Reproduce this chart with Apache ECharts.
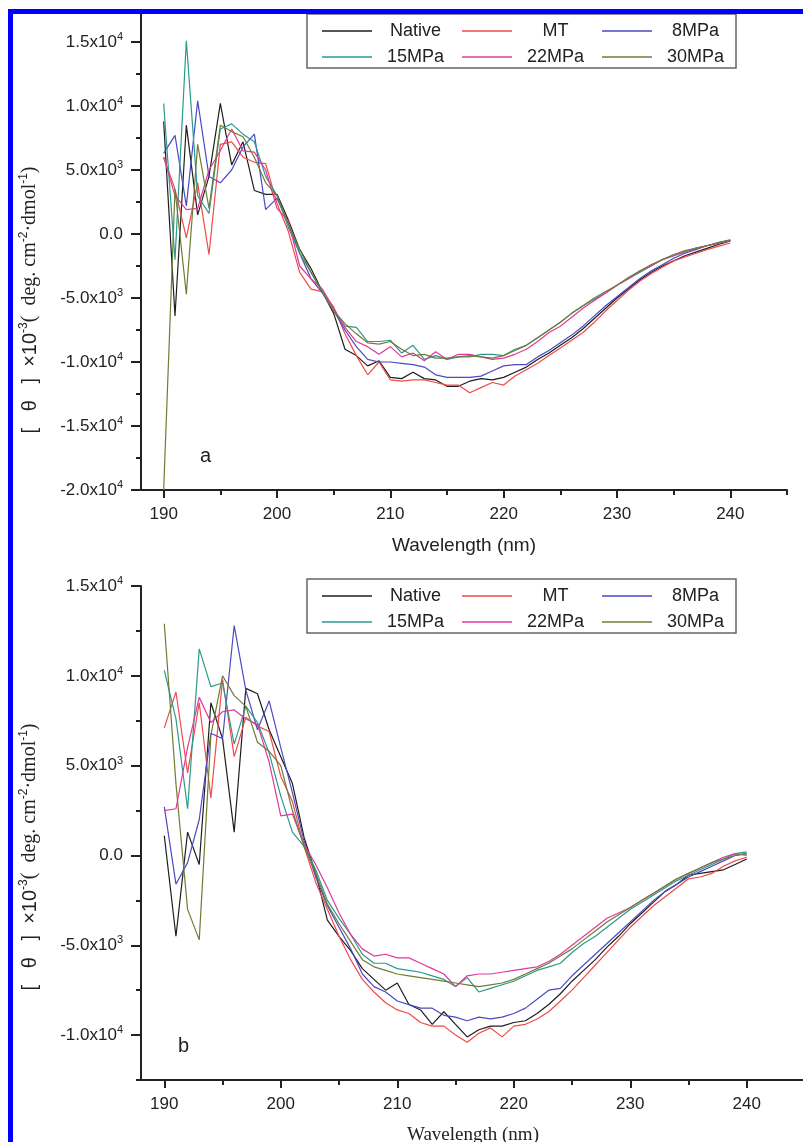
<!DOCTYPE html>
<html><head><meta charset="utf-8">
<script src="https://cdn.jsdelivr.net/npm/echarts@6/dist/echarts.min.js"></script>
<style>html,body{margin:0;padding:0;background:#fff}#c{width:803px;height:1142px}</style>
</head><body><div id="c"></div>
<script>
// ---------- data ----------
const wavelengths = [190,191,192,193,194,195,196,197,198,199,
  200,201,202,203,204,205,206,207,208,209,
  210,211,212,213,214,215,216,217,218,219,
  220,221,222,223,224,225,226,227,228,229,
  230,231,232,233,234,235,236,237,238,239,240];
const seriesNames = ['Native','MT','8MPa','15MPa','22MPa','30MPa'];
const xMajorTicks = [190,200,210,220,230,240];
const xMinorTicks = [195,205,215,225,235,245];
const yTopMajor = [-20000,-15000,-10000,-5000,0,5000,10000,15000];
const yTopMinor = [-17500,-12500,-7500,-2500,2500,7500,12500];
const yBotMajor = [-10000,-5000,0,5000,10000,15000];
const yBotMinor = [-12500,-7500,-2500,2500,7500,12500];

// panel a
const aNative = [8800,-6400,8500,1500,4500,10200,5400,7200,3400,3100,
  3100,1100,-1200,-2700,-4500,-6200,-9000,-9500,-10300,-9900,
  -11200,-11300,-10800,-11300,-11400,-11900,-11900,-11500,-11300,-11400,
  -11200,-10800,-10400,-9800,-9300,-8700,-8100,-7400,-6600,-5800,
  -5000,-4300,-3600,-3000,-2500,-2100,-1700,-1400,-1100,-800,-550];
const aMT = [6000,3500,-300,4000,-1600,7000,7200,6000,5600,5500,
  2400,200,-3000,-4300,-4500,-5700,-7800,-9500,-11000,-10000,
  -11400,-11500,-11400,-11400,-11600,-11800,-11800,-12400,-12000,-11600,
  -11800,-11100,-10600,-10100,-9500,-8900,-8300,-7700,-6900,-6000,
  -5200,-4400,-3700,-3100,-2600,-2100,-1800,-1500,-1200,-950,-700];
const a8MPa = [6300,7700,2200,10400,4500,4000,5000,6800,7800,1900,
  2800,800,-1500,-3500,-4600,-6000,-7500,-8800,-9800,-10000,
  -10000,-10100,-10200,-10400,-11000,-11200,-11200,-11200,-11100,-10700,
  -10300,-10200,-10200,-9600,-9100,-8500,-7900,-7200,-6400,-5600,
  -4900,-4200,-3500,-2900,-2400,-1900,-1500,-1200,-900,-650,-450];
const a15MPa = [10200,-2000,15100,3000,1600,8200,8600,7800,7200,4500,
  3000,500,-1500,-3000,-4500,-6000,-7200,-7300,-8400,-8400,
  -8300,-9300,-8700,-9800,-9500,-9800,-9600,-9600,-9400,-9400,
  -9500,-9000,-8700,-8100,-7500,-6900,-6200,-5600,-5100,-4600,
  -4000,-3500,-3000,-2500,-2000,-1700,-1400,-1100,-900,-700,-500];
const a22MPa = [6000,3000,1900,2000,5000,6500,8200,6500,6400,5000,
  2000,1000,-2500,-3500,-4300,-5800,-7300,-8400,-8800,-9400,
  -8800,-9600,-9300,-9900,-9200,-9800,-9400,-9400,-9600,-9800,
  -9700,-9400,-9000,-8400,-7700,-7200,-6500,-5800,-5200,-4600,
  -4000,-3500,-2900,-2500,-2000,-1700,-1400,-1100,-900,-700,-500];
const a30MPa = [-20000,3500,-4700,7000,2000,8500,8000,7600,6000,4000,
  3000,800,-1200,-3000,-4500,-6000,-7000,-7800,-8500,-8600,
  -8400,-9000,-9500,-9400,-9700,-9700,-9600,-9500,-9600,-9700,
  -9500,-9100,-8700,-8100,-7500,-6900,-6200,-5600,-5000,-4500,
  -4000,-3400,-2900,-2400,-2000,-1600,-1300,-1100,-900,-700,-500];

// panel b
const bNative = [1100,-4500,1300,-500,8500,6500,1300,9300,9000,7000,
  5500,4000,1000,-1000,-3600,-4500,-5300,-6300,-6900,-7500,
  -7100,-8300,-8600,-9400,-8700,-9400,-10100,-9700,-9500,-9500,
  -9300,-9200,-8800,-8300,-7700,-7000,-6400,-5800,-5100,-4500,
  -3800,-3200,-2600,-2000,-1600,-1100,-1000,-900,-800,-500,-200];
const bMT = [7100,9100,4600,8500,3200,9800,5500,7700,7200,6900,
  4400,3000,500,-1500,-3000,-4500,-5800,-6900,-7600,-8200,
  -8600,-8800,-9300,-9500,-9500,-10000,-10400,-9900,-9600,-10100,
  -9500,-9400,-9100,-8700,-8100,-7500,-6800,-6100,-5400,-4700,
  -4000,-3400,-2800,-2300,-1800,-1300,-1200,-1000,-600,-300,-100];
const b8MPa = [2700,-1600,-400,2000,6800,6500,12800,9200,7000,8600,
  6000,3500,800,-1200,-2800,-4000,-5200,-6600,-7300,-7600,
  -8100,-8300,-8500,-8500,-8900,-9000,-9200,-9000,-9100,-9000,
  -8800,-8500,-8000,-7500,-7400,-6700,-6100,-5500,-4900,-4300,
  -3700,-3100,-2500,-2000,-1600,-1200,-900,-600,-300,0,100];
const b15MPa = [10300,7600,2600,11500,9400,9600,6200,8300,7400,5700,
  3300,1300,500,-800,-2500,-3500,-4400,-5500,-6000,-6000,
  -6300,-6400,-6500,-6700,-6900,-7300,-6800,-7600,-7400,-7200,
  -7000,-6700,-6400,-6200,-6000,-5400,-4900,-4500,-4000,-3500,
  -3000,-2600,-2200,-1800,-1400,-1100,-800,-500,-200,100,200];
const b22MPa = [2500,2600,6000,8800,7400,8000,8100,7600,7300,5200,
  2200,2300,600,-500,-1800,-3200,-4400,-5200,-5600,-5500,
  -5700,-5700,-6000,-6300,-6600,-7300,-6700,-6600,-6600,-6500,
  -6400,-6300,-6200,-5900,-5500,-5000,-4500,-4000,-3500,-3200,
  -2900,-2500,-2100,-1700,-1300,-1000,-700,-400,-100,100,0];
const b30MPa = [12900,4000,-3000,-4700,6700,10000,8900,8300,6300,5800,
  5000,2500,500,-1000,-2700,-3800,-4800,-5800,-6200,-6400,
  -6600,-6700,-6800,-6900,-7000,-7100,-7200,-7300,-7200,-7100,
  -6900,-6600,-6300,-6000,-5600,-5200,-4700,-4200,-3700,-3300,
  -2900,-2500,-2100,-1700,-1300,-1000,-700,-400,-200,0,100];

const panelA = [aNative,aMT,a8MPa,a15MPa,a22MPa,a30MPa];
const panelB = [bNative,bMT,b8MPa,b15MPa,b22MPa,b30MPa];

// ---------- styles ----------
const colors = ['#1e1e1e','#f04a4a','#4a4ac4','#2a9a8c','#e2389c','#6f7c34'];
const SANS = 'Liberation Sans, Arial, sans-serif';
const SERIF = 'Liberation Serif, Times New Roman, serif';
const INK = '#222';

function sciFmt(v){
  if (v === 0) return '{m|0.0}';
  const e = Math.floor(Math.log10(Math.abs(v)) + 1e-9);
  const m = v / Math.pow(10, e);
  return '{m|' + m.toFixed(1) + 'x10}{s|' + e + '}';
}
const labelRich = {
  m: {fontSize: 17, fontFamily: SANS, color: INK, lineHeight: 21},
  s: {fontSize: 11, fontFamily: SANS, color: INK, lineHeight: 11, verticalAlign: 'top'}
};
const yNameText = '{a|[   θ   ]  ×10}{s|-3}{b|(  deg. cm}{s|-2}{b|·dmol}{s|-1}{b|)}';
const yNameRich = {
  a: {fontSize: 20, fontFamily: SANS, color: INK, lineHeight: 24},
  b: {fontSize: 20, fontFamily: SERIF, color: INK, lineHeight: 24},
  s: {fontSize: 12, fontFamily: SANS, color: INK, lineHeight: 12, verticalAlign: 'top'}
};
const axisLineStyle = {color: INK, width: 2};

function xAxes(grid, nameFont, nameGap){
  return [
    {gridIndex: grid, type: 'value', position: 'bottom', min: 188, max: 245,
     axisLine: {show: true, onZero: false, lineStyle: axisLineStyle},
     axisTick: {show: true, customValues: xMajorTicks, length: 8, lineStyle: axisLineStyle},
     axisLabel: {customValues: xMajorTicks, fontSize: 17, fontFamily: SANS, color: INK, margin: 16},
     splitLine: {show: false},
     name: 'Wavelength (nm)', nameLocation: 'middle', nameGap: nameGap,
     nameTextStyle: {fontSize: 19, fontFamily: nameFont, color: INK}},
    {gridIndex: grid, type: 'value', position: 'bottom', min: 188, max: 245,
     axisLine: {show: false, onZero: false},
     axisTick: {show: true, customValues: xMinorTicks, length: 5, lineStyle: axisLineStyle},
     axisLabel: {show: false}, splitLine: {show: false}}
  ];
}
function yAxes(grid, min, max, major, minor, shiftDown){
  return [
    {gridIndex: grid, type: 'value', position: 'left', min: min, max: max,
     axisLine: {show: true, onZero: false, lineStyle: axisLineStyle},
     axisTick: {show: true, customValues: major, length: 10, lineStyle: axisLineStyle},
     axisLabel: {customValues: major, formatter: sciFmt, rich: labelRich, margin: 18},
     splitLine: {show: false},
     name: yNameText, nameLocation: 'middle', nameRotate: 90, nameGap: 99,
     nameTextStyle: {rich: yNameRich, padding: [0, shiftDown * 2, 0, 0]}},
    {gridIndex: grid, type: 'value', position: 'left', min: min, max: max,
     axisLine: {show: false, onZero: false},
     axisTick: {show: true, customValues: minor, length: 5, lineStyle: axisLineStyle},
     axisLabel: {show: false}, splitLine: {show: false}}
  ];
}

function makeSeries(panel, xi, yi){
  return panel.map((vals, k) => ({
    name: seriesNames[k], type: 'line', xAxisIndex: xi, yAxisIndex: yi,
    data: wavelengths.map((w, i) => [w, vals[i]]),
    symbol: 'none', smooth: false,
    lineStyle: {width: 1.2, color: colors[k]}, itemStyle: {color: colors[k]},
    emphasis: {disabled: true}
  }));
}

function legendAt(top){
  return {
    top: top, left: 307, width: 420, orient: 'horizontal',
    data: seriesNames,
    icon: 'rect',
    itemWidth: 50, itemHeight: 1.5, itemGap: 8,
    padding: [8, 2, 2, 15],
    borderColor: '#666', borderWidth: 1.5, backgroundColor: '#fff',
    formatter: name => '{n|' + name + '}',
    textStyle: {rich: {n: {width: 77, align: 'center', fontSize: 18, fontFamily: SANS, color: INK, lineHeight: 22}}}
  };
}

const chart = echarts.init(document.getElementById('c'), null, {renderer: 'canvas'});
chart.setOption({
  animation: false,
  backgroundColor: '#fff',
  color: colors,
  grid: [
    {left: 141, top: 10, width: 646, height: 480, outerBoundsMode: 'none', containLabel: false},
    {left: 141, top: 586, width: 664, height: 494, outerBoundsMode: 'none', containLabel: false}
  ],
  xAxis: [].concat(xAxes(0, SANS, 46), xAxes(1, SERIF, 46)),
  yAxis: [].concat(
    yAxes(0, -20000, 17500, yTopMajor, yTopMinor, 50),
    yAxes(1, -12500, 15000, yBotMajor, yBotMinor, 24)
  ),
  legend: [legendAt(14), legendAt(579)],
  series: [].concat(makeSeries(panelA, 0, 0), makeSeries(panelB, 2, 2)),
  graphic: [
    {type: 'text', left: 200, top: 446, style: {text: 'a', fontSize: 20, fontFamily: SANS, fill: INK}},
    {type: 'text', left: 178, top: 1036, style: {text: 'b', fontSize: 20, fontFamily: SANS, fill: INK}},
    {type: 'rect', z: 100, shape: {x: 8, y: 9, width: 795, height: 5}, style: {fill: '#0000ff'}},
    {type: 'rect', z: 100, shape: {x: 8, y: 9, width: 5, height: 1133}, style: {fill: '#0000ff'}}
  ]
});
</script></body></html>
